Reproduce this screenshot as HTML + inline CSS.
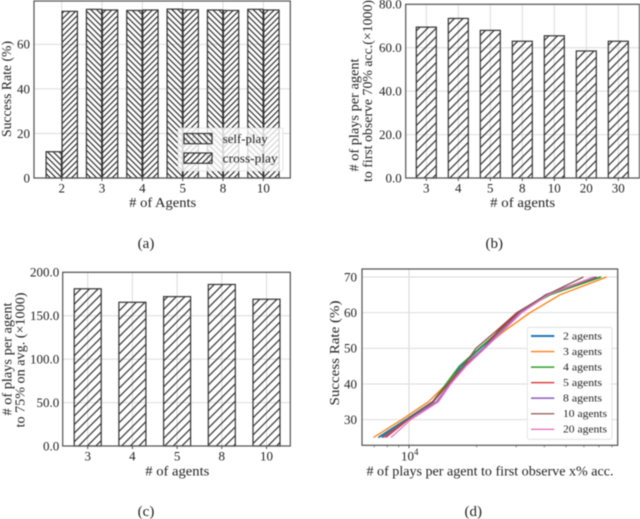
<!DOCTYPE html>
<html lang="en">
<head>
<meta charset="utf-8">
<title>Multi-agent play charts</title>
<style>
html,body{margin:0;padding:0;background:#fff;}
svg{display:block;filter:blur(0.4px);}
text{font-family:"Liberation Serif",serif;fill:#222;}
</style>
</head>
<body>
<svg id="fig" xmlns="http://www.w3.org/2000/svg" width="640" height="519" viewBox="0 0 640 519">
<defs>
<pattern id="hatch-back" patternUnits="userSpaceOnUse" width="5.8" height="5.8">
<path d="M-1,-1 L6.8,6.8 M-1,4.8 L1,6.8 M4.8,-1 L6.8,1" stroke="#111" stroke-width="1.05"/>
</pattern>
<pattern id="hatch-fwd" patternUnits="userSpaceOnUse" width="5.8" height="5.8">
<path d="M-1,6.8 L6.8,-1 M-1,1 L1,-1 M4.8,6.8 L6.8,4.8" stroke="#111" stroke-width="1.05"/>
</pattern>
<pattern id="hatch-wide" patternUnits="userSpaceOnUse" width="8.6" height="8.6">
<path d="M-1,9.6 L9.6,-1 M-1,1 L1,-1 M7.6,9.6 L9.6,7.6" stroke="#111" stroke-width="1.05"/>
</pattern>
</defs>
</svg>
<script>
// Panel (a)
const aCategories = ['2', '3', '4', '5', '8', '10'];
const aSelfPlay = [11.8, 75.7, 75.2, 75.8, 75.4, 75.7];
const aCrossPlay = [74.8, 75.4, 75.4, 75.5, 75.2, 75.4];
const aTicks = [0, 20, 40, 60];
// Panel (b)
const bCategories = ['3', '4', '5', '8', '10', '20', '30'];
const bValues = [69.5, 73.5, 68, 63, 65.5, 58.5, 63];
const bTicks = [0, 20, 40, 60, 80];
// Panel (c)
const cCategories = ['3', '4', '5', '8', '10'];
const cValues = [181, 165.5, 172, 186, 169];
const cTicks = [0, 50, 100, 150, 200];
// Panel (d)
const dLevels = [25, 30, 35, 40, 45, 50, 55, 60, 65, 70];
const dTicks = [30, 40, 50, 60, 70];
const dMinorTicks = [7000, 8000, 9000, 20000, 30000, 40000, 50000, 60000, 70000, 80000];
const dNames = ['2 agents', '3 agents', '4 agents', '5 agents', '8 agents', '10 agents', '20 agents'];
const dAgents2 = [7300, 9697, 12745, 14710, 16980, 20700, 25410, 30670, 41010, 71550];
const dAgents3 = [6940, 9275, 12190, 14710, 17450, 21430, 26750, 34570, 47000, 75810];
const dAgents4 = [7556, 9831, 12830, 14610, 16750, 20560, 25410, 30350, 42430, 71550];
const dAgents5 = [7875, 9931, 12830, 14970, 17450, 21430, 24980, 30670, 41010, 68450];
const dAgents8 = [7685, 9831, 13280, 15220, 17760, 21430, 25850, 31200, 40580, 67280];
const dAgents10 = [7556, 9831, 12745, 14860, 17450, 19870, 24560, 30150, 41010, 59700];
const dAgents20 = [8315, 10172, 13510, 15330, 17930, 21790, 26300, 31730, 41700, 66150];

const NS = 'http://www.w3.org/2000/svg';
const svg = document.getElementById('fig');
const SPINE = '#505050', GRID = '#dcdcdc';

function make(tag, attrs, text) {
  const el = document.createElementNS(NS, tag);
  for (const k in attrs) el.setAttribute(k, attrs[k]);
  if (text !== undefined) el.textContent = text;
  svg.appendChild(el);
  return el;
}
function label(name, x, y, str, size, anchor, len, rot) {
  const a = {x: x, y: y, 'font-size': size, 'text-anchor': anchor};
  if (len) { a.textLength = len; a.lengthAdjust = 'spacingAndGlyphs'; }
  if (rot) a.transform = 'rotate(-90 ' + x + ' ' + y + ')';
  const el = make('text', a, str);
  
  
  return el;
}
function hline(name, x1, x2, y, color, w) {
  const el = make('line', {x1: x1, x2: x2, y1: y, y2: y, stroke: color, 'stroke-width': w});
  
  
  return el;
}
function vline(name, x, y1, y2, color, w) {
  const el = make('line', {x1: x, x2: x, y1: y1, y2: y2, stroke: color, 'stroke-width': w});
  
  
  return el;
}
function frame(name, box) {
  const el = make('rect', {x: box.l, y: box.t, width: box.r - box.l, height: box.b - box.t, fill: 'none', stroke: SPINE, 'stroke-width': 1.2});
  
  
}
function bar(name, x, w, yTop, yBase, fill) {
  const el = make('rect', {x: x, y: yTop, width: w, height: yBase - yTop, fill: fill, stroke: '#333', 'stroke-width': 1.2});
  
  
}

/* ---------- panel a ---------- */
const aBox = {l: 34, r: 290.3, t: 1, b: 178};
const aY = v => aBox.b - v * 2.228;
const aX = i => 61.7 + i * 40.33;
aTicks.forEach(t => {
  hline('a-grid-y-' + t, aBox.l, aBox.r, aY(t), GRID, 1);
  label('a-y-tick-' + t, 30, aY(t) + 4.4, String(t), 13, 'end');
});
aCategories.forEach((c, i) => {
  vline('a-grid-x-' + c, aX(i), aBox.t, aBox.b, GRID, 1);
  vline('a-x-tick-mark-' + c, aX(i), aBox.b, aBox.b + 3, SPINE, 1);
  label('a-x-tick-' + c, aX(i), 192.5, c, 13, 'middle');
  bar('a-self-play-bar-' + c, aX(i) - 15.6, 15.3, aY(aSelfPlay[i]), aBox.b, 'url(#hatch-back)');
  bar('a-cross-play-bar-' + c, aX(i) + 0.4, 15.3, aY(aCrossPlay[i]), aBox.b, 'url(#hatch-fwd)');
});
frame('a-plot-frame', aBox);
label('a-x-axis-title', 162.7, 207, '# of Agents', 13.5, 'middle', 67);
label('a-y-axis-title', 11, 89, 'Success Rate (%)', 13.5, 'middle', 96, true);
label('a-caption', 146, 248, '(a)', 15, 'middle');
const aLegend = make('rect', {x: 178, y: 128, width: 105, height: 43, rx: 2, fill: '#fff', 'fill-opacity': 0.8, stroke: '#ddd', 'stroke-width': 0.8});


bar('a-legend-self-play-swatch', 184, 28, 133.5, 143.7, 'url(#hatch-back)');
bar('a-legend-cross-play-swatch', 184, 28, 153, 163.3, 'url(#hatch-fwd)');
label('a-legend-self-play-label', 222.7, 143, 'self-play', 13, 'start', 45);
label('a-legend-cross-play-label', 222.7, 162.7, 'cross-play', 13, 'start', 55);

/* ---------- panel b ---------- */
const bBox = {l: 405.7, r: 639.5, t: 4.3, b: 178};
const bY = v => bBox.b - v * 2.171;
const bX = i => 426.3 + i * 32;
bTicks.forEach(t => {
  hline('b-grid-y-' + t, bBox.l, bBox.r, bY(t), GRID, 1);
  label('b-y-tick-' + t, 401.7, bY(t) + 4.4, t.toFixed(1), 13, 'end');
});
bCategories.forEach((c, i) => {
  vline('b-grid-x-' + c, bX(i), bBox.t, bBox.b, GRID, 1);
  vline('b-x-tick-mark-' + c, bX(i), bBox.b, bBox.b + 3, SPINE, 1);
  label('b-x-tick-' + c, bX(i), 192.5, c, 13, 'middle');
  bar('b-bar-' + c, bX(i) - 10, 20, bY(bValues[i]), bBox.b, 'url(#hatch-wide)');
});
frame('b-plot-frame', bBox);
label('b-x-axis-title', 522.7, 207, '# of agents', 13.5, 'middle', 65);
label('b-y-axis-title-line-1', 358.3, 115, '# of plays per agent', 13.5, 'middle', 113, true);
label('b-y-axis-title-line-2', 372, 91, 'to first observe 70% acc.(×1000)', 13.5, 'middle', 182, true);
label('b-caption', 494.3, 248, '(b)', 15, 'middle');

/* ---------- panel c ---------- */
const cBox = {l: 62.7, r: 290.3, t: 272.3, b: 446};
const cY = v => cBox.b - v * 0.8685;
const cX = i => 87.7 + i * 44.7;
cTicks.forEach(t => {
  hline('c-grid-y-' + t, cBox.l, cBox.r, cY(t), GRID, 1);
  label('c-y-tick-' + t, 59.3, cY(t) + 4.4, t.toFixed(1), 13, 'end');
});
cCategories.forEach((c, i) => {
  vline('c-grid-x-' + c, cX(i), cBox.t, cBox.b, GRID, 1);
  vline('c-x-tick-mark-' + c, cX(i), cBox.b, cBox.b + 3, SPINE, 1);
  label('c-x-tick-' + c, cX(i), 460.5, c, 13, 'middle');
  bar('c-bar-' + c, cX(i) - 13.5, 27, cY(cValues[i]), cBox.b, 'url(#hatch-wide)');
});
frame('c-plot-frame', cBox);
label('c-x-axis-title', 177.3, 475.7, '# of agents', 13.5, 'middle', 64);
label('c-y-axis-title-line-1', 11.7, 359, '# of plays per agent', 13.5, 'middle', 113, true);
label('c-y-axis-title-line-2', 24.3, 360, 'to 75% on avg. (×1000)', 13.5, 'middle', 135, true);
label('c-caption', 146, 516, '(c)', 15, 'middle');

/* ---------- panel d ---------- */
const dBox = {l: 362, r: 617.7, t: 269, b: 445.3};
const dY = v => 277 + (70 - v) * 3.567;
const dX = v => 409 + Math.log10(v / 10000) * 224.7;
dTicks.forEach(t => {
  hline('d-grid-y-' + t, dBox.l, dBox.r, dY(t), GRID, 1);
  label('d-y-tick-' + t, 357, dY(t) + 4.4, String(t), 13, 'end');
});
vline('d-grid-x-10000', dX(10000), dBox.t, dBox.b, GRID, 1.2);
vline('d-x-tick-mark-10000', dX(10000), dBox.b, dBox.b + 3, SPINE, 1);
dMinorTicks.forEach(t => {
  vline('d-x-minor-tick-' + t, dX(t), dBox.b, dBox.b + 2, SPINE, 0.7);
});
label('d-x-tick-10000', 401, 460.5, '10', 13, 'start');
label('d-x-tick-exponent', 414, 455, '4', 9, 'start');
const dSeries = [dAgents2, dAgents3, dAgents4, dAgents5, dAgents8, dAgents10, dAgents20];
const dColors = ['#1f77b4', '#ff7f0e', '#2ca02c', '#d62728', '#9467bd', '#8c564b', '#e377c2'];
const dWidths = [1.9, 1.3, 1.5, 1.3, 1.7, 1.3, 1.3];
dSeries.forEach((s, k) => {
  const pts = s.map((v, i) => dX(v).toFixed(1) + ',' + dY(dLevels[i]).toFixed(1)).join(' ');
  const line = make('polyline', {points: pts, fill: 'none', stroke: dColors[k], 'stroke-width': dWidths[k], 'stroke-linejoin': 'round'});
  
  
});
frame('d-plot-frame', dBox);
label('d-x-axis-title', 490, 475.7, '# of plays per agent to first observe x% acc.', 13.5, 'middle', 247);
label('d-y-axis-title', 339, 353, 'Success Rate (%)', 13.5, 'middle', 105, true);
label('d-caption', 473.3, 516, '(d)', 15, 'middle');
const dLegend = make('rect', {x: 527.3, y: 327.3, width: 84.7, height: 112, rx: 2, fill: '#fff', 'fill-opacity': 0.85, stroke: '#ddd', 'stroke-width': 0.8});


dNames.forEach((n, k) => {
  const y = 336 + k * 15.55;
  hline('d-legend-swatch-' + n.replace(' ', '-'), 531, 554.3, y, dColors[k], dWidths[k]);
  label('d-legend-label-' + n.replace(' ', '-'), 563, y + 3.4, n, 11, 'start', n.length > 8 ? 44 : 39);
});
</script>
</body>
</html>
